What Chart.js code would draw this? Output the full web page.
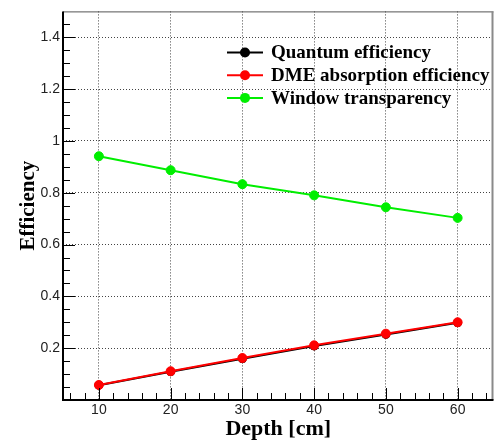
<!DOCTYPE html>
<html>
<head>
<meta charset="utf-8">
<title>Efficiency vs Depth</title>
<script src="https://cdn.jsdelivr.net/npm/chart.js@4.4.1/dist/chart.umd.min.js"></script>
<style>
  body { margin: 0; background: #ffffff; }
  canvas { display: block; }
</style>
</head>
<body>
<canvas id="effChart" width="499" height="440"></canvas>
<script>
// ----------------------------- Data --------------------------------------//
const depth = [10, 20, 30, 40, 50, 60];                               // cm
const quantumEff = [0.057, 0.109, 0.159, 0.208, 0.253, 0.298];
const dmeAbsorption = [0.058, 0.111, 0.162, 0.211, 0.256, 0.300];
const windowTransp = [0.941, 0.887, 0.833, 0.790, 0.744, 0.703];

const seriesNames = ['Quantum efficiency', 'DME absorption efficiency', 'Window transparency'];
const seriesColors = ['#000000', '#ff0000', '#00ee00'];

const xTicks = [10, 20, 30, 40, 50, 60];
const yTicks = [0.2, 0.4, 0.6, 0.8, 1.0, 1.2, 1.4];
const yTickLabels = ['0.2', '0.4', '0.6', '0.8', '1', '1.2', '1.4'];

function toPoints(values) {
  return values.map((v, i) => ({ x: depth[i], y: v }));
}

// Frame, inward tick marks and the legend box -------------------------------//
const frameAndLegend = {
  id: 'frameAndLegend',
  afterDatasetsDraw(chart) {
    const ctx = chart.ctx;
    const area = chart.chartArea;
    const xs = chart.scales.x;
    const ys = chart.scales.y;

    ctx.save();
    // top & right edges (lighter)
    ctx.strokeStyle = '#555555';
    ctx.lineWidth = 1;
    ctx.beginPath();
    ctx.moveTo(area.left, area.top + 0.5);
    ctx.lineTo(area.right, area.top + 0.5);
    ctx.stroke();
    ctx.strokeStyle = '#8a8a8a';
    ctx.lineWidth = 2;
    ctx.beginPath();
    ctx.moveTo(area.right - 1, area.top);
    ctx.lineTo(area.right - 1, area.bottom);
    ctx.stroke();

    // tick marks pointing into the plot
    ctx.strokeStyle = '#000000';
    ctx.lineWidth = 1;
    ctx.beginPath();
    for (let v = 6; v <= 64; v += 2) {
      const px = Math.round(xs.getPixelForValue(v)) + 0.5;
      const len = (v % 10 === 0) ? 12 : 7;
      ctx.moveTo(px, area.bottom);
      ctx.lineTo(px, area.bottom - len);
    }
    for (let k = 1; k <= 29; k++) {
      const v = k * 0.05;
      const py = Math.round(ys.getPixelForValue(v)) + 0.5;
      const len = (k % 4 === 0) ? 12 : 7;
      ctx.moveTo(area.left, py);
      ctx.lineTo(area.left + len, py);
    }
    ctx.stroke();

    // left & bottom axis lines
    ctx.lineWidth = 2;
    ctx.beginPath();
    ctx.moveTo(area.left, area.top);
    ctx.lineTo(area.left, area.bottom);
    ctx.lineTo(area.right, area.bottom);
    ctx.stroke();

    // legend
    const lx = 245, ly0 = 52.5, dy = 22.7;
    chart.data.datasets.forEach((ds, i) => {
      const y = ly0 + i * dy;
      ctx.strokeStyle = ds.borderColor;
      ctx.fillStyle = ds.borderColor;
      ctx.lineWidth = 2;
      ctx.beginPath();
      ctx.moveTo(lx - 18, y);
      ctx.lineTo(lx + 18, y);
      ctx.stroke();
      ctx.beginPath();
      ctx.arc(lx, y, 5, 0, Math.PI * 2);
      ctx.fill();
      ctx.fillStyle = '#000000';
      ctx.font = 'bold 19px "Liberation Serif", "DejaVu Serif", serif';
      ctx.textBaseline = 'middle';
      ctx.textAlign = 'left';
      ctx.fillText(ds.label, lx + 26, y + 1);
    });
    ctx.restore();
  }
};

const datasets = [quantumEff, dmeAbsorption, windowTransp].map((vals, i) => ({
  label: seriesNames[i],
  data: toPoints(vals),
  borderColor: seriesColors[i],
  backgroundColor: seriesColors[i],
  pointBackgroundColor: seriesColors[i],
  pointBorderColor: seriesColors[i],
  borderWidth: 2,
  pointRadius: i === 0 ? 4 : 4.5,
  pointBorderWidth: 1,
  tension: 0,
  order: 2 - i          // red drawn over black
}));

const tickFont = { family: '"Liberation Sans", Arial, sans-serif', size: 14 };

new Chart(document.getElementById('effChart'), {
  type: 'line',
  data: { datasets: datasets },
  options: {
    responsive: false,
    animation: false,
    layout: { padding: { top: 9, right: 4, left: 0, bottom: 0 } },
    plugins: {
      legend: { display: false },
      tooltip: { enabled: false }
    },
    scales: {
      x: {
        type: 'linear',
        min: 5,
        max: 65,
        afterBuildTicks: (axis) => { axis.ticks = xTicks.map(v => ({ value: v })); },
        afterFit: (axis) => { axis.height = 40; },
        ticks: { font: tickFont, color: '#222222', padding: 2, maxRotation: 0 },
        grid: { color: '#444444', lineWidth: 1, drawTicks: false },
        border: { display: false, dash: [1, 2] },
        title: {
          display: true,
          text: 'Depth [cm]',
          font: { family: '"Liberation Serif", "DejaVu Serif", serif', size: 22, weight: 'bold', lineHeight: 1 },
          color: '#000000',
          padding: { top: 0, bottom: 0 }
        }
      },
      y: {
        type: 'linear',
        min: 0,
        max: 1.5,
        afterBuildTicks: (axis) => { axis.ticks = yTicks.map(v => ({ value: v })); },
        afterFit: (axis) => { axis.width = 63; },
        ticks: {
          font: tickFont,
          color: '#222222',
          padding: 3,
          callback: (value) => {
            const idx = yTicks.findIndex(t => Math.abs(t - value) < 1e-6);
            return idx >= 0 ? yTickLabels[idx] : '';
          }
        },
        grid: { color: '#444444', lineWidth: 1, drawTicks: false },
        border: { display: false, dash: [1, 2] },
        title: {
          display: true,
          text: 'Efficiency',
          font: { family: '"Liberation Serif", "DejaVu Serif", serif', size: 21, weight: 'bold', lineHeight: 1 },
          color: '#000000',
          padding: { top: 18, bottom: 0 }
        }
      }
    }
  },
  plugins: [frameAndLegend]
});
</script>
</body>
</html>
